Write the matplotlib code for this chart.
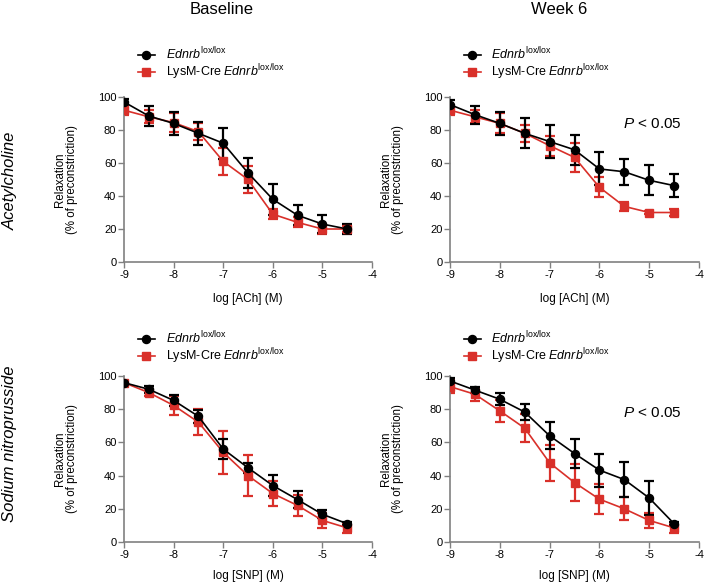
import numpy as np
import matplotlib.pyplot as plt

plt.rcParams['font.family'] = ['Liberation Sans', 'DejaVu Sans']
plt.rcParams['mathtext.fontset'] = 'custom'
plt.rcParams['mathtext.rm'] = 'Liberation Sans'
plt.rcParams['mathtext.it'] = 'Liberation Sans:italic'

log_conc = [-9, -8.5, -8, -7.5, -7, -6.5, -6, -5.5, -5, -4.5]

# Baseline, acetylcholine
ach_base_ctrl = [97, 88.5, 84, 78, 72, 54, 38, 28.3, 23, 20]
ach_base_ctrl_err = [1.5, 6, 7, 7, 9.5, 9, 9.5, 6, 5.5, 3]
ach_base_ko = [92, 88, 84.5, 79, 61, 50, 29, 24, 20, 20]
ach_base_ko_err = [3, 4, 6, 5, 8, 8, 3, 3, 3, 2]

# Week 6, acetylcholine
ach_w6_ctrl = [95.4, 89.3, 84, 78, 73, 68, 56.4, 54.7, 49.5, 46.3]
ach_w6_ctrl_err = [3, 5.5, 7, 9, 10, 9, 10, 8, 9, 7]
ach_w6_ko = [92, 88, 84, 78, 70.5, 63.4, 45.3, 33.7, 30, 30]
ach_w6_ko_err = [3, 4, 6, 5, 6, 9, 6, 2.5, 1, 2]

# Baseline, sodium nitroprusside
snp_base_ctrl = [96, 92, 85.3, 75.7, 56, 44.7, 34, 25.5, 16.7, 11]
snp_base_ctrl_err = [1, 2, 3.5, 4, 6, 3, 6.5, 5, 2.5, 1]
snp_base_ko = [96, 90, 82.3, 72.2, 54, 40, 29.2, 22, 13, 8.5]
snp_base_ko_err = [1, 2, 5.5, 8, 13, 12.5, 7.5, 6.5, 4.5, 3]

# Week 6, sodium nitroprusside
snp_w6_ctrl = [97, 91.5, 86, 78.3, 64, 53.3, 43.3, 37.6, 26.5, 11]
snp_w6_ctrl_err = [2, 2, 3.5, 5, 8, 9, 10, 10.5, 10, 1]
snp_w6_ko = [93.6, 89, 79, 68.6, 47.7, 35.8, 25.8, 20, 13, 8.5]
snp_w6_ko_err = [4, 4, 6.5, 8.5, 11, 11, 9, 7, 4.5, 3]

col_titles = ['Baseline', 'Week 6']
row_titles = ['Acetylcholine', 'Sodium nitroprusside']
x_labels = ['log [ACh] (M)', 'log [SNP] (M)']
lbl_ctrl = r'$\mathit{Ednrb}^{\mathrm{lox/lox}}$'
lbl_ko = r'LysM-Cre $\mathit{Ednrb}^{\mathrm{lox/lox}}$'

red = '#d9302a'
W, H = 705, 584
fig = plt.figure(figsize=(W / 100, H / 100), dpi=100)

# axes boxes in pixels: left, top, right, bottom
boxes = [[(124, 97, 372, 262), (450, 97, 699, 262)],
         [(124, 376, 372, 542), (450, 376, 699, 542)]]
data = [[(ach_base_ctrl, ach_base_ctrl_err, ach_base_ko, ach_base_ko_err),
         (ach_w6_ctrl, ach_w6_ctrl_err, ach_w6_ko, ach_w6_ko_err)],
        [(snp_base_ctrl, snp_base_ctrl_err, snp_base_ko, snp_base_ko_err),
         (snp_w6_ctrl, snp_w6_ctrl_err, snp_w6_ko, snp_w6_ko_err)]]
legend_y = [64, 348]
p_y = [0.836, 0.777]
xlab_pad = [9.5, 7.5]

for r in range(2):
    for c in range(2):
        l, t, rt, b = boxes[r][c]
        ax = fig.add_axes([l / W, 1 - b / H, (rt - l) / W, (b - t) / H])
        yc, ye, yk, yke = data[r][c]

        ax.errorbar(log_conc, yc, yerr=ye, fmt='none', ecolor='black',
                    elinewidth=1.6, capsize=3.5, capthick=1.6, zorder=3)
        ax.errorbar(log_conc, yk, yerr=yke, fmt='none', ecolor=red,
                    elinewidth=1.6, capsize=3.5, capthick=1.6, zorder=2)
        ax.plot(log_conc, yk, color=red, marker='s', ms=5.8, lw=1.2,
                label=lbl_ko, zorder=4)
        ax.plot(log_conc, yc, color='black', marker='o', ms=5.8, lw=1.2,
                label=lbl_ctrl, zorder=5)

        ax.set_xlim(-9, -4)
        ax.set_ylim(0, 100)
        ax.set_xticks([-9, -8, -7, -6, -5, -4])
        ax.set_xticklabels(['-9', '-8', '-7', '-6', '-5', '-4'])
        ax.set_yticks([0, 20, 40, 60, 80, 100])
        for s in ['top', 'right']:
            ax.spines[s].set_visible(False)
        for s in ['left', 'bottom']:
            ax.spines[s].set_color('#808080')
            ax.spines[s].set_linewidth(1.2)
        ax.tick_params(length=4, width=1, color='#808080', labelsize=8,
                       pad=1.5)

        ax.set_ylabel('Relaxation\n(% of preconstriction)', fontsize=8.3,
                      linespacing=1.0)
        ax.yaxis.set_label_coords(-46 / (rt - l), 0.5)
        ax.set_xlabel(x_labels[r], fontsize=8.5, labelpad=xlab_pad[r])

        h, lab = ax.get_legend_handles_labels()
        ax.legend(h[::-1], lab[::-1], loc='center left',
                  bbox_to_anchor=((l + 14) / W, 1 - legend_y[r] / H),
                  bbox_transform=fig.transFigure, frameon=False,
                  fontsize=9, handlelength=1.35, handletextpad=0.85,
                  labelspacing=0.02, borderpad=0, borderaxespad=0)

        if c == 1:
            ax.text(0.811, p_y[r], r'$\mathit{P}$ < 0.05', transform=ax.transAxes,
                    ha='center', va='center', fontsize=11)

fig.text(222 / W, 1 - 10 / H, col_titles[0], ha='center', va='center', fontsize=12)
fig.text(559 / W, 1 - 10 / H, col_titles[1], ha='center', va='center', fontsize=12)
fig.text(10 / W, 1 - 181 / H, row_titles[0], rotation=90, ha='center',
         va='center', fontsize=12, style='italic')
fig.text(10 / W, 1 - 444 / H, row_titles[1], rotation=90, ha='center',
         va='center', fontsize=12, style='italic')

fig.savefig('out.png', dpi=100)
